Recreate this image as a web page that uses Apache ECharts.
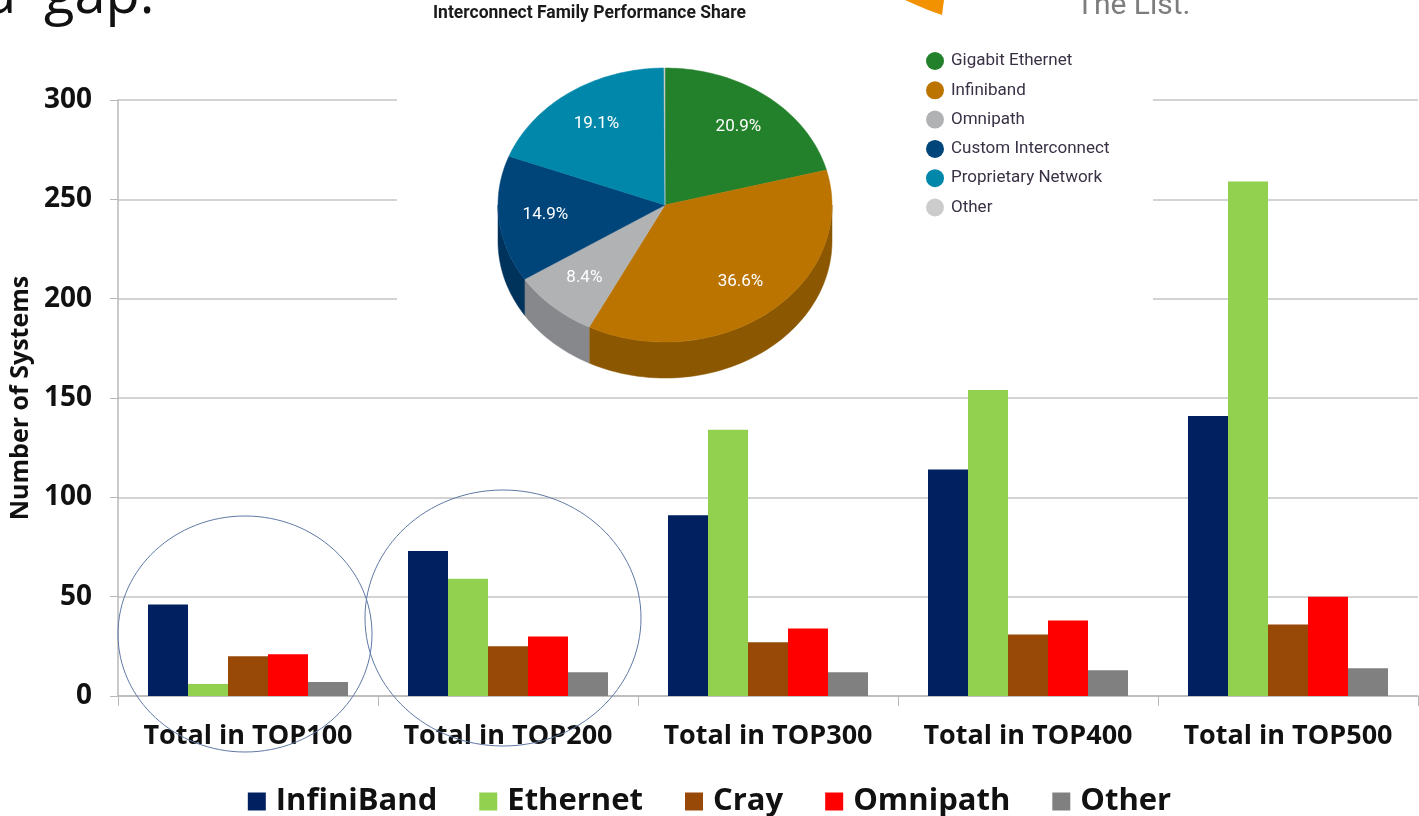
<!DOCTYPE html>
<html>
<head>
<meta charset="utf-8">
<title>Interconnects in TOP500</title>
<script src="https://cdn.jsdelivr.net/npm/echarts@6/dist/echarts.min.js"></script>
<style>
  html, body { margin: 0; padding: 0; background: #fff; }
  #main { width: 1419px; height: 816px; }
</style>
</head>
<body>
<div id="main"></div>
<script>
// bar chart data (number of systems)
var categories = ['Total in TOP100', 'Total in TOP200', 'Total in TOP300', 'Total in TOP400', 'Total in TOP500'];
var barNames = ['InfiniBand', 'Ethernet', 'Cray', 'Omnipath', 'Other'];
var infiniband = [46, 73, 91, 114, 141];
var ethernet = [6, 59, 134, 154, 259];
var cray = [20, 25, 27, 31, 36];
var omnipath = [21, 30, 34, 38, 50];
var other = [7, 12, 12, 13, 14];
var barColors = ['#002060', '#92d050', '#984807', '#ff0000', '#808080'];

// inset pie: interconnect family performance share (%)
var pieNames = ['Gigabit Ethernet', 'Infiniband', 'Omnipath', 'Custom Interconnect', 'Proprietary Network', 'Other'];
var pieShares = [20.9, 36.6, 8.4, 14.9, 19.1, 0.1];
var pieColors = ['#23802b', '#bb7400', '#b1b2b4', '#00457a', '#0087aa', '#cccccc'];
var pieSides = ['#1a6020', '#8b5700', '#87888b', '#00335c', '#006680', '#a0a0a0'];

var chart = echarts.init(document.getElementById('main'));

var pieTotal = pieShares.reduce(function (a, b) { return a + b; }, 0);
var DEPTH = 0.263; // thickness of the pie, in y units of the inset grid

function sliceRender(i) {
    return function (params, api) {
        var before = 0;
        for (var k = 0; k < i; k++) before += pieShares[k];
        var a0 = before / pieTotal * Math.PI * 2;
        var a1 = (before + pieShares[i]) / pieTotal * Math.PI * 2;
        var pt = function (a, r, dy) {
            return api.coord([r * Math.sin(a), r * Math.cos(a) - (dy || 0)]);
        };
        var n = 60, children = [];

        // visible side (lower half of the ellipse)
        var s0 = Math.max(a0, Math.PI / 2), s1 = Math.min(a1, Math.PI * 1.5);
        if (s1 > s0) {
            var side = [];
            for (var j = 0; j <= n; j++) side.push(pt(s0 + (s1 - s0) * j / n, 1));
            for (var j2 = n; j2 >= 0; j2--) side.push(pt(s0 + (s1 - s0) * j2 / n, 1, DEPTH));
            children.push({
                type: 'polygon', shape: {points: side},
                style: {fill: pieSides[i], stroke: pieSides[i], lineWidth: 0.5}
            });
        }

        var top = [pt(0, 0)];
        for (var m = 0; m <= n; m++) top.push(pt(a0 + (a1 - a0) * m / n, 1));
        children.push({
            type: 'polygon', shape: {points: top},
            style: {fill: pieColors[i], stroke: pieColors[i], lineWidth: 0.5}
        });

        if (pieShares[i] >= 1) {
            var lp = pt((a0 + a1) / 2, 0.72);
            children.push({
                type: 'text', x: lp[0], y: lp[1],
                style: {
                    text: pieShares[i].toFixed(1) + '%', fill: '#fff',
                    font: '17px Roboto', align: 'center', verticalAlign: 'middle'
                }
            });
        }
        return {type: 'group', children: children};
    };
}

var barSeries = [infiniband, ethernet, cray, omnipath, other].map(function (vals, i) {
    return {
        name: barNames[i],
        type: 'bar',
        xAxisIndex: 0,
        yAxisIndex: 0,
        data: vals,
        barWidth: 40,
        barGap: '0%',
        itemStyle: {color: barColors[i]}
    };
});

var pieSeries = pieNames.map(function (name, i) {
    return {
        name: name,
        type: 'custom',
        xAxisIndex: 1,
        yAxisIndex: 1,
        clip: false,
        silent: true,
        itemStyle: {color: pieColors[i]},
        renderItem: sliceRender(i),
        data: [[0, 0]]
    };
});

var option = {
    animation: false,
    backgroundColor: '#fff',
    textStyle: {fontFamily: 'Open Sans'},
    grid: [
        {left: 118, right: 1, top: 100, bottom: 120},
        {left: 498, top: 68, width: 334, height: 274}
    ],
    legend: [
        {
            data: barNames,
            left: 'center',
            top: 781,
            icon: 'rect',
            itemWidth: 18,
            itemHeight: 18,
            itemGap: 42,
            textStyle: {fontSize: 31, fontWeight: 'bold', color: '#111', fontFamily: 'Open Sans', padding: [0, 0, 0, 5]}
        },
        {
            // same names as some bars, so the icon colours are given here
            data: pieNames.map(function (nm, i) {
                return {name: nm, itemStyle: {color: pieColors[i]}};
            }),
            orient: 'vertical',
            left: 921,
            top: 47,
            icon: 'circle',
            itemWidth: 18,
            itemHeight: 18,
            itemGap: 11.3,
            textStyle: {fontSize: 17, color: '#3a3145', fontFamily: 'Roboto', padding: [0, 0, 0, 2]}
        }
    ],
    xAxis: [
        {
            type: 'category',
            gridIndex: 0,
            data: categories,
            axisLine: {lineStyle: {color: '#b8b8b8', width: 1.5}},
            axisTick: {show: true, length: 10, lineStyle: {color: '#b8b8b8'}},
            axisLabel: {interval: 0, fontSize: 27, fontWeight: 'bold', color: '#111', margin: 27}
        },
        {type: 'value', gridIndex: 1, min: -1, max: 1, show: false}
    ],
    yAxis: [
        {
            type: 'value',
            gridIndex: 0,
            min: 0,
            max: 300,
            interval: 50,
            name: 'Number of Systems',
            nameLocation: 'middle',
            nameGap: 80,
            nameTextStyle: {fontSize: 25, fontWeight: 'bold', color: '#111'},
            axisLine: {show: true, lineStyle: {color: '#b8b8b8', width: 1.5}},
            axisTick: {show: true, length: 8, lineStyle: {color: '#b8b8b8'}},
            axisLabel: {fontSize: 28, fontWeight: 'bold', color: '#111', margin: 26},
            splitLine: {lineStyle: {color: '#c4c4c4', width: 1.5}}
        },
        {type: 'value', gridIndex: 1, min: -1, max: 1, show: false}
    ],
    graphic: [
        // white box of the pasted pie picture
        {type: 'rect', z: 1, shape: {x: 397, y: 0, width: 756, height: 372}, style: {fill: '#fff'}},
        {
            type: 'text', z: 1, x: 433, y: 14,
            style: {text: 'Interconnect Family Performance Share', font: 'bold 17.5px Roboto', fill: '#1a1a1a', verticalAlign: 'middle'}
        },
        {
            type: 'polygon', z: 1,
            shape: {points: [[905, 0], [944, 0], [942, 15], [928, 10], [914, 4]]},
            style: {fill: '#f39200'}
        },
        {
            type: 'text', z: 1, x: 1076, y: 6,
            style: {text: 'The List.', font: '30px Roboto', fill: '#7d7d7d', verticalAlign: 'middle'}
        },
        // slide text cut off at the top
        {
            type: 'text', z: 1, x: -15, y: -3,
            style: {text: 'a', font: '56px Open Sans', fill: '#111', verticalAlign: 'middle'}
        },
        {
            type: 'text', z: 1, x: 44, y: -3,
            style: {text: 'gap.', font: '56px Open Sans', fill: '#111', verticalAlign: 'middle'}
        },
        // hand drawn circles
        {type: 'ellipse', z: 100, shape: {cx: 245, cy: 634, rx: 127, ry: 118}, style: {fill: 'none', stroke: '#5f79a6', lineWidth: 1}},
        {type: 'ellipse', z: 100, shape: {cx: 503, cy: 618, rx: 138, ry: 128}, style: {fill: 'none', stroke: '#5f79a6', lineWidth: 1}}
    ],
    series: barSeries.concat(pieSeries)
};

chart.setOption(option);
</script>
</body>
</html>
